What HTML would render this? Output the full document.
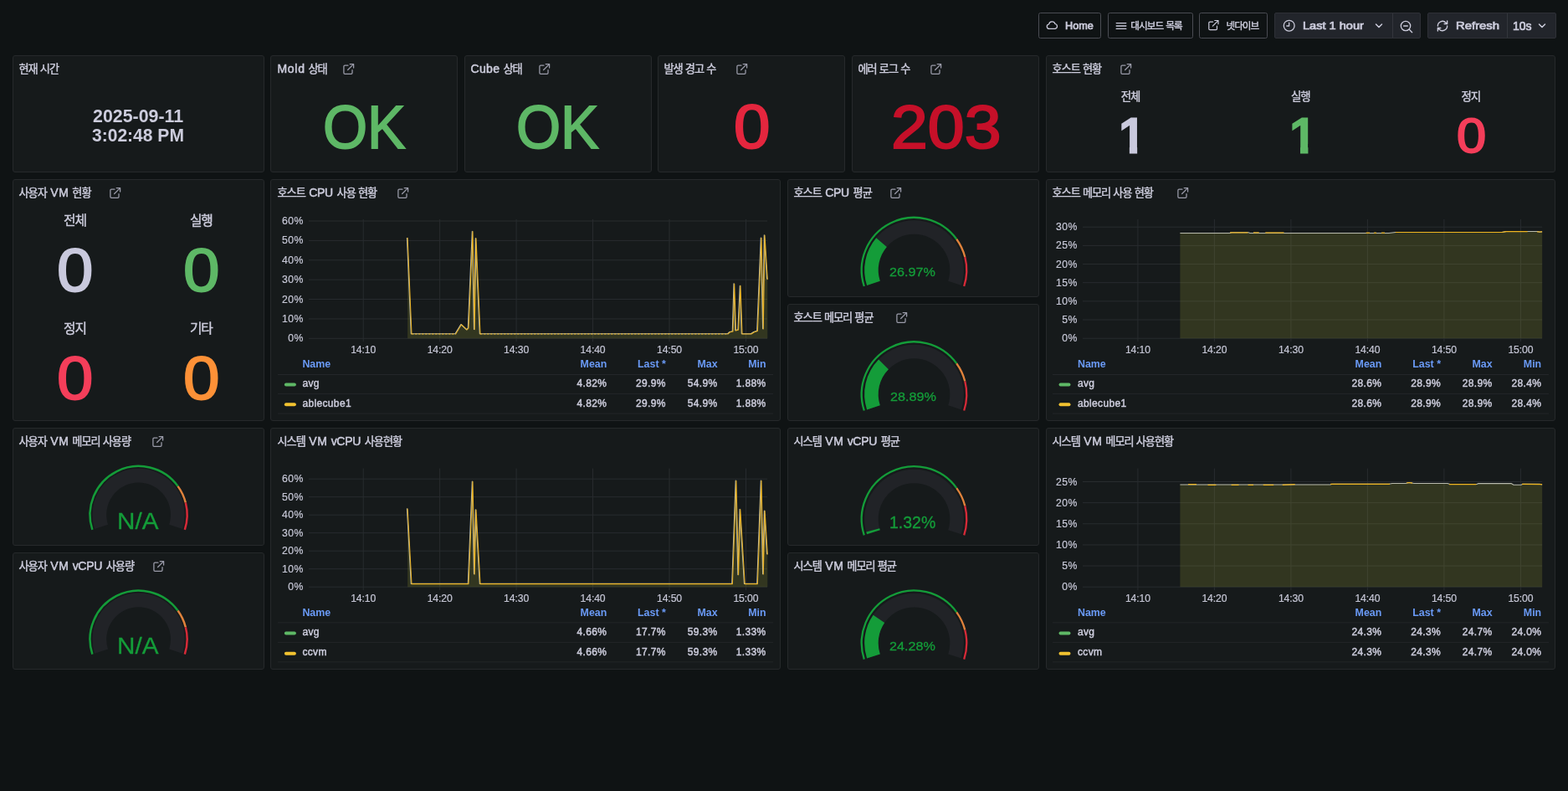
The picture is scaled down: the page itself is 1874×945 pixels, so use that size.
<!DOCTYPE html><html lang="ko"><head><meta charset="utf-8"><title>Dashboard</title><style>
html,body{margin:0;padding:0}
body{width:1874px;height:945px;overflow:hidden;position:relative;background:#0f1314;font-family:"Liberation Sans",sans-serif;color:#ccccdc}
#root{position:absolute;left:0;top:0;width:1874px;height:945px;will-change:transform}
.p{position:absolute;box-sizing:border-box;background:#161a1b;border:1px solid #26292b;border-radius:3px}
.t{position:absolute;left:6.5px;top:4.7px;height:20px;line-height:20px;white-space:nowrap;display:flex;align-items:center}
.k{display:inline-block;flex:none;font-family:"Liberation Sans","Noto Sans CJK KR",sans-serif;color:#ccccdc;white-space:nowrap;line-height:normal;letter-spacing:-0.08em;-webkit-text-stroke:0.4px #ccccdc}
.k0{font-size:11.6px}
.k1{font-size:13.2px}
.k2{font-size:13.4px}
.k3{font-size:15.8px}
.b{position:absolute;box-sizing:border-box;border:1px solid #4a4c53;border-radius:2.5px}
.g{position:absolute;box-sizing:border-box;border:1px solid #2e3036;border-radius:2px;background:#22252b}
.g i{position:absolute;top:0;bottom:0;width:1px;background:#34363d}
.tb{position:absolute;height:17px;display:flex;align-items:center;white-space:nowrap}
.c{position:absolute;width:120px;display:flex;align-items:center;justify-content:center;white-space:nowrap}
.yl{position:absolute;width:60px;height:15px;line-height:15px;font-size:12.2px;text-align:right;color:#c6c7d6;letter-spacing:0.5px;margin-left:0.5px;-webkit-text-stroke:0.2px #c6c7d6}
.xl{position:absolute;width:60px;height:15px;line-height:15px;font-size:12.2px;text-align:center;color:#c6c7d6;letter-spacing:-0.1px;-webkit-text-stroke:0.2px #c6c7d6}
.lh{position:absolute;height:15px;line-height:15px;font-size:12.4px;color:#6a9af6;font-weight:bold;white-space:nowrap}
.lv{position:absolute;height:15px;line-height:15px;font-size:12px;color:#ccccdc;white-space:nowrap;letter-spacing:0.35px;-webkit-text-stroke:0.45px #ccccdc}
.r{width:80px;text-align:right}
</style></head><body><div id="root"><div class="b" style="left:1241px;top:15px;width:75px;height:31px"></div><div class="b" style="left:1324px;top:15px;width:102px;height:31px"></div><div class="b" style="left:1433px;top:15px;width:82px;height:31px"></div><div class="g" style="left:1523px;top:15px;width:175px;height:31px"><i style="left:140px"></i></div><div class="g" style="left:1706px;top:15px;width:154px;height:31px"><i style="left:94px"></i></div><svg style="position:absolute;left:1250px;top:23px" width="15" height="14.4" viewBox="0 0 24 24" preserveAspectRatio="none" fill="none" stroke="#ccccdc" stroke-width="2" stroke-linecap="round" stroke-linejoin="round"><path d="M6.5 19a4.5 4.5 0 0 1-.6-8.96A6 6 0 0 1 17.6 9.2 5 5 0 0 1 17.5 19z"/></svg><span style="position:absolute;left:1272.70px;top:25.37px;font-size:12.31px;line-height:1;white-space:nowrap;color:#ccccdc;transform-origin:0 0;transform:scaleX(1.0287);-webkit-text-stroke:0.7px #ccccdc;">Home</span><svg style="position:absolute;left:1333.3px;top:24.7px" width="14" height="12" viewBox="0 0 14 12" stroke="#ccccdc" stroke-width="1.35" stroke-linecap="round"><path d="M1.2 2.6H12.8M1.2 6H12.8M1.2 9.4H12.8"/></svg><div class="tb" style="left:1351.2px;top:21.8px"><span class="k k0">대시보드</span><span style="display:inline-block;width:3.02px"> </span><span class="k k0">목록</span></div><svg style="position:absolute;left:1442.85px;top:23.35px" width="14.5" height="14.5" viewBox="0 0 24 24" fill="none" stroke="#ccccdc" stroke-width="2" stroke-linecap="round" stroke-linejoin="round"><path d="M19 13.5V19a2 2 0 0 1-2 2H5a2 2 0 0 1-2-2V7a2 2 0 0 1 2-2h6"/><path d="M14.5 2.5H21.5V9.5"/><path d="M10.5 13.5L21 3"/></svg><div class="tb" style="left:1465.4px;top:21.8px"><span class="k k0">넷다이브</span></div><svg style="position:absolute;left:1533px;top:23px" width="15.4" height="15.4" viewBox="0 0 24 24" fill="none" stroke="#ccccdc" stroke-width="2" stroke-linecap="round" stroke-linejoin="round"><circle cx="12" cy="12" r="10"/><path d="M12 6.5V12.5H7.5"/></svg><span style="position:absolute;left:1556.54px;top:25.16px;font-size:12.71px;line-height:1;white-space:nowrap;color:#ccccdc;transform-origin:0 0;transform:scaleX(1.1471);-webkit-text-stroke:0.7px #ccccdc;">Last 1 hour</span><svg style="position:absolute;left:1642.5px;top:26.5px" width="10" height="8" viewBox="0 0 10 8" fill="none" stroke="#ccccdc" stroke-width="1.5" stroke-linecap="round" stroke-linejoin="round"><path d="M1.5 2L5 5.5L8.5 2"/></svg><svg style="position:absolute;left:1672.5px;top:23.5px" width="16" height="16" viewBox="0 0 24 24" fill="none" stroke="#ccccdc" stroke-width="2" stroke-linecap="round" stroke-linejoin="round"><circle cx="10.5" cy="10.5" r="8.5"/><path d="M7 10.5H14M17 17L22 22"/></svg><svg style="position:absolute;left:1715.5px;top:23px" width="16" height="16" viewBox="0 0 24 24" fill="none" stroke="#ccccdc" stroke-width="2" stroke-linecap="round" stroke-linejoin="round"><path d="M3.5 12a8.5 8.5 0 0 1 14.5-6l2.5 2.3M20.5 3v5.3h-5.3M20.5 12a8.5 8.5 0 0 1-14.5 6l-2.5-2.3M3.5 21v-5.3h5.3"/></svg><span style="position:absolute;left:1739.81px;top:25.16px;font-size:12.70px;line-height:1;white-space:nowrap;color:#ccccdc;transform-origin:0 0;transform:scaleX(1.1714);-webkit-text-stroke:0.7px #ccccdc;">Refresh</span><span style="position:absolute;left:1808.00px;top:23.61px;font-size:14.35px;line-height:1;white-space:nowrap;color:#ccccdc;transform-origin:0 0;transform:scaleX(0.9782);-webkit-text-stroke:0.7px #ccccdc;">10s</span><svg style="position:absolute;left:1838px;top:26.5px" width="10" height="8" viewBox="0 0 10 8" fill="none" stroke="#ccccdc" stroke-width="1.5" stroke-linecap="round" stroke-linejoin="round"><path d="M1.5 2L5 5.5L8.5 2"/></svg><div class="p" style="left:15px;top:66px;width:301px;height:140px"><div class="t"><span class="k k1">현재</span><span style="display:inline-block;width:3.20px"> </span><span class="k k1">시간</span></div></div><div class="p" style="left:323px;top:66px;width:224px;height:140px"><div class="t" style="left:7.5px"><span style="font-size:14px;-webkit-text-stroke:0.5px #ccccdc;letter-spacing:0.7px;margin-right:-0.7px">Mold</span><span style="display:inline-block;width:4.50px"> </span><span class="k k1">상태</span></div></div><svg style="position:absolute;left:408.50px;top:74.60px" width="15.2" height="15.2" viewBox="0 0 24 24" fill="none" stroke="#9b9caa" stroke-width="2" stroke-linecap="round" stroke-linejoin="round"><path d="M19 13.5V19a2 2 0 0 1-2 2H5a2 2 0 0 1-2-2V7a2 2 0 0 1 2-2h6"/><path d="M14.5 2.5H21.5V9.5"/><path d="M10.5 13.5L21 3"/></svg><div class="p" style="left:555px;top:66px;width:224px;height:140px"><div class="t"><span style="font-size:14px;-webkit-text-stroke:0.5px #ccccdc;letter-spacing:0.35px;margin-right:-0.35px">Cube</span><span style="display:inline-block;width:4.50px"> </span><span class="k k1">상태</span></div></div><svg style="position:absolute;left:642.80px;top:74.60px" width="15.2" height="15.2" viewBox="0 0 24 24" fill="none" stroke="#9b9caa" stroke-width="2" stroke-linecap="round" stroke-linejoin="round"><path d="M19 13.5V19a2 2 0 0 1-2 2H5a2 2 0 0 1-2-2V7a2 2 0 0 1 2-2h6"/><path d="M14.5 2.5H21.5V9.5"/><path d="M10.5 13.5L21 3"/></svg><div class="p" style="left:786px;top:66px;width:224px;height:140px"><div class="t"><span class="k k1">발생</span><span style="display:inline-block;width:3.20px"> </span><span class="k k1">경고</span><span style="display:inline-block;width:3.20px"> </span><span class="k k1">수</span></div></div><svg style="position:absolute;left:878.50px;top:74.60px" width="15.2" height="15.2" viewBox="0 0 24 24" fill="none" stroke="#9b9caa" stroke-width="2" stroke-linecap="round" stroke-linejoin="round"><path d="M19 13.5V19a2 2 0 0 1-2 2H5a2 2 0 0 1-2-2V7a2 2 0 0 1 2-2h6"/><path d="M14.5 2.5H21.5V9.5"/><path d="M10.5 13.5L21 3"/></svg><div class="p" style="left:1018px;top:66px;width:224px;height:140px"><div class="t"><span class="k k1">에러</span><span style="display:inline-block;width:3.20px"> </span><span class="k k1">로그</span><span style="display:inline-block;width:3.20px"> </span><span class="k k1">수</span></div></div><svg style="position:absolute;left:1110.50px;top:74.60px" width="15.2" height="15.2" viewBox="0 0 24 24" fill="none" stroke="#9b9caa" stroke-width="2" stroke-linecap="round" stroke-linejoin="round"><path d="M19 13.5V19a2 2 0 0 1-2 2H5a2 2 0 0 1-2-2V7a2 2 0 0 1 2-2h6"/><path d="M14.5 2.5H21.5V9.5"/><path d="M10.5 13.5L21 3"/></svg><div class="p" style="left:1250px;top:66px;width:609px;height:140px"><div class="t"><span class="k k1">호스트</span><span style="display:inline-block;width:3.20px"> </span><span class="k k1">현황</span></div></div><svg style="position:absolute;left:1337.50px;top:74.60px" width="15.2" height="15.2" viewBox="0 0 24 24" fill="none" stroke="#9b9caa" stroke-width="2" stroke-linecap="round" stroke-linejoin="round"><path d="M19 13.5V19a2 2 0 0 1-2 2H5a2 2 0 0 1-2-2V7a2 2 0 0 1 2-2h6"/><path d="M14.5 2.5H21.5V9.5"/><path d="M10.5 13.5L21 3"/></svg><div class="p" style="left:15px;top:214px;width:301px;height:289px"><div class="t"><span class="k k1">사용자</span><span style="display:inline-block;width:4.50px"> </span><span style="font-size:14px;-webkit-text-stroke:0.5px #ccccdc;letter-spacing:0.6px;margin-right:-0.6px">VM</span><span style="display:inline-block;width:4.50px"> </span><span class="k k1">현황</span></div></div><svg style="position:absolute;left:129.50px;top:222.60px" width="15.2" height="15.2" viewBox="0 0 24 24" fill="none" stroke="#9b9caa" stroke-width="2" stroke-linecap="round" stroke-linejoin="round"><path d="M19 13.5V19a2 2 0 0 1-2 2H5a2 2 0 0 1-2-2V7a2 2 0 0 1 2-2h6"/><path d="M14.5 2.5H21.5V9.5"/><path d="M10.5 13.5L21 3"/></svg><div class="p" style="left:323px;top:214px;width:610px;height:289px"><div class="t" style="left:7.5px"><span class="k k1">호스트</span><span style="display:inline-block;width:4.50px"> </span><span style="font-size:14px;-webkit-text-stroke:0.5px #ccccdc;letter-spacing:-0.35px;margin-right:0.35px">CPU</span><span style="display:inline-block;width:4.50px"> </span><span class="k k1">사용</span><span style="display:inline-block;width:3.20px"> </span><span class="k k1">현황</span></div></div><svg style="position:absolute;left:474.00px;top:222.60px" width="15.2" height="15.2" viewBox="0 0 24 24" fill="none" stroke="#9b9caa" stroke-width="2" stroke-linecap="round" stroke-linejoin="round"><path d="M19 13.5V19a2 2 0 0 1-2 2H5a2 2 0 0 1-2-2V7a2 2 0 0 1 2-2h6"/><path d="M14.5 2.5H21.5V9.5"/><path d="M10.5 13.5L21 3"/></svg><div class="p" style="left:941px;top:214px;width:301px;height:141px"><div class="t"><span class="k k1">호스트</span><span style="display:inline-block;width:4.50px"> </span><span style="font-size:14px;-webkit-text-stroke:0.5px #ccccdc;letter-spacing:-0.35px;margin-right:0.35px">CPU</span><span style="display:inline-block;width:4.50px"> </span><span class="k k1">평균</span></div></div><svg style="position:absolute;left:1062.50px;top:222.60px" width="15.2" height="15.2" viewBox="0 0 24 24" fill="none" stroke="#9b9caa" stroke-width="2" stroke-linecap="round" stroke-linejoin="round"><path d="M19 13.5V19a2 2 0 0 1-2 2H5a2 2 0 0 1-2-2V7a2 2 0 0 1 2-2h6"/><path d="M14.5 2.5H21.5V9.5"/><path d="M10.5 13.5L21 3"/></svg><div class="p" style="left:941px;top:363px;width:301px;height:140px"><div class="t"><span class="k k1">호스트</span><span style="display:inline-block;width:3.20px"> </span><span class="k k1">메모리</span><span style="display:inline-block;width:3.20px"> </span><span class="k k1">평균</span></div></div><svg style="position:absolute;left:1069.50px;top:371.60px" width="15.2" height="15.2" viewBox="0 0 24 24" fill="none" stroke="#9b9caa" stroke-width="2" stroke-linecap="round" stroke-linejoin="round"><path d="M19 13.5V19a2 2 0 0 1-2 2H5a2 2 0 0 1-2-2V7a2 2 0 0 1 2-2h6"/><path d="M14.5 2.5H21.5V9.5"/><path d="M10.5 13.5L21 3"/></svg><div class="p" style="left:1250px;top:214px;width:609px;height:289px"><div class="t"><span class="k k1">호스트</span><span style="display:inline-block;width:3.20px"> </span><span class="k k1">메모리</span><span style="display:inline-block;width:3.20px"> </span><span class="k k1">사용</span><span style="display:inline-block;width:3.20px"> </span><span class="k k1">현황</span></div></div><svg style="position:absolute;left:1405.50px;top:222.60px" width="15.2" height="15.2" viewBox="0 0 24 24" fill="none" stroke="#9b9caa" stroke-width="2" stroke-linecap="round" stroke-linejoin="round"><path d="M19 13.5V19a2 2 0 0 1-2 2H5a2 2 0 0 1-2-2V7a2 2 0 0 1 2-2h6"/><path d="M14.5 2.5H21.5V9.5"/><path d="M10.5 13.5L21 3"/></svg><div class="p" style="left:15px;top:511px;width:301px;height:141px"><div class="t"><span class="k k1">사용자</span><span style="display:inline-block;width:4.50px"> </span><span style="font-size:14px;-webkit-text-stroke:0.5px #ccccdc;letter-spacing:0.6px;margin-right:-0.6px">VM</span><span style="display:inline-block;width:4.50px"> </span><span class="k k1">메모리</span><span style="display:inline-block;width:3.20px"> </span><span class="k k1">사용량</span></div></div><svg style="position:absolute;left:180.50px;top:519.60px" width="15.2" height="15.2" viewBox="0 0 24 24" fill="none" stroke="#9b9caa" stroke-width="2" stroke-linecap="round" stroke-linejoin="round"><path d="M19 13.5V19a2 2 0 0 1-2 2H5a2 2 0 0 1-2-2V7a2 2 0 0 1 2-2h6"/><path d="M14.5 2.5H21.5V9.5"/><path d="M10.5 13.5L21 3"/></svg><div class="p" style="left:15px;top:660px;width:301px;height:140px"><div class="t"><span class="k k1">사용자</span><span style="display:inline-block;width:4.50px"> </span><span style="font-size:14px;-webkit-text-stroke:0.5px #ccccdc;letter-spacing:0.6px;margin-right:-0.6px">VM</span><span style="display:inline-block;width:4.80px"> </span><span style="font-size:14px;-webkit-text-stroke:0.5px #ccccdc;letter-spacing:-0.3px;margin-right:0.3px">vCPU</span><span style="display:inline-block;width:4.50px"> </span><span class="k k1">사용량</span></div></div><svg style="position:absolute;left:181.50px;top:668.60px" width="15.2" height="15.2" viewBox="0 0 24 24" fill="none" stroke="#9b9caa" stroke-width="2" stroke-linecap="round" stroke-linejoin="round"><path d="M19 13.5V19a2 2 0 0 1-2 2H5a2 2 0 0 1-2-2V7a2 2 0 0 1 2-2h6"/><path d="M14.5 2.5H21.5V9.5"/><path d="M10.5 13.5L21 3"/></svg><div class="p" style="left:323px;top:511px;width:610px;height:289px"><div class="t" style="left:7.5px"><span class="k k1">시스템</span><span style="display:inline-block;width:4.50px"> </span><span style="font-size:14px;-webkit-text-stroke:0.5px #ccccdc;letter-spacing:0.6px;margin-right:-0.6px">VM</span><span style="display:inline-block;width:4.80px"> </span><span style="font-size:14px;-webkit-text-stroke:0.5px #ccccdc;letter-spacing:-0.3px;margin-right:0.3px">vCPU</span><span style="display:inline-block;width:4.50px"> </span><span class="k k1">사용현황</span></div></div><div class="p" style="left:941px;top:511px;width:301px;height:141px"><div class="t"><span class="k k1">시스템</span><span style="display:inline-block;width:4.50px"> </span><span style="font-size:14px;-webkit-text-stroke:0.5px #ccccdc;letter-spacing:0.6px;margin-right:-0.6px">VM</span><span style="display:inline-block;width:4.80px"> </span><span style="font-size:14px;-webkit-text-stroke:0.5px #ccccdc;letter-spacing:-0.3px;margin-right:0.3px">vCPU</span><span style="display:inline-block;width:4.50px"> </span><span class="k k1">평균</span></div></div><div class="p" style="left:941px;top:660px;width:301px;height:140px"><div class="t"><span class="k k1">시스템</span><span style="display:inline-block;width:4.50px"> </span><span style="font-size:14px;-webkit-text-stroke:0.5px #ccccdc;letter-spacing:0.6px;margin-right:-0.6px">VM</span><span style="display:inline-block;width:4.50px"> </span><span class="k k1">메모리</span><span style="display:inline-block;width:3.20px"> </span><span class="k k1">평균</span></div></div><div class="p" style="left:1250px;top:511px;width:609px;height:289px"><div class="t"><span class="k k1">시스템</span><span style="display:inline-block;width:4.50px"> </span><span style="font-size:14px;-webkit-text-stroke:0.5px #ccccdc;letter-spacing:0.6px;margin-right:-0.6px">VM</span><span style="display:inline-block;width:4.50px"> </span><span class="k k1">메모리</span><span style="display:inline-block;width:3.20px"> </span><span class="k k1">사용현황</span></div></div><span style="position:absolute;left:110.50px;top:128.34px;font-size:21.19px;line-height:1;white-space:nowrap;color:#ccccdc;transform-origin:0 0;transform:scaleX(1.0094);font-weight:bold;">2025-09-11</span><span style="position:absolute;left:110.14px;top:151.82px;font-size:21.42px;line-height:1;white-space:nowrap;color:#ccccdc;transform-origin:0 0;transform:scaleX(0.9829);font-weight:bold;">3:02:48 PM</span><span style="position:absolute;left:385.55px;top:115.85px;font-size:72.42px;line-height:1;white-space:nowrap;color:#5eb866;transform-origin:0 0;transform:scaleX(0.9429);-webkit-text-stroke:1.8px #5eb866;">OK</span><span style="position:absolute;left:616.55px;top:115.85px;font-size:72.42px;line-height:1;white-space:nowrap;color:#5eb866;transform-origin:0 0;transform:scaleX(0.9429);-webkit-text-stroke:1.8px #5eb866;">OK</span><span style="position:absolute;left:877.43px;top:115.24px;font-size:73.49px;line-height:1;white-space:nowrap;color:#e4263e;transform-origin:0 0;transform:scaleX(1.0628);-webkit-text-stroke:2.1px #e4263e;">0</span><span style="position:absolute;left:1065.45px;top:115.82px;font-size:72.93px;line-height:1;white-space:nowrap;color:#c61029;transform-origin:0 0;transform:scaleX(1.0804);-webkit-text-stroke:2.1px #c61029;">203</span><div class="c" style="left:1291px;top:100.6px;height:26.8px"><span class="k k2">전체</span></div><div class="c" style="left:1494.3px;top:100.6px;height:26.8px"><span class="k k2">실행</span></div><div class="c" style="left:1697.7px;top:100.6px;height:26.8px"><span class="k k2">정지</span></div><span style="position:absolute;left:1335.90px;top:134.50px;font-size:56.72px;line-height:1;white-space:nowrap;color:#c9c9dd;transform-origin:0 0;transform:scaleX(1.1042);clip-path:polygon(-5px -10px,56.7px -10px,56.7px 37.29px,20.98px 37.29px,20.98px 73.7px,12.56px 73.7px,12.56px 37.29px,-5px 37.29px);-webkit-text-stroke:3.0px #c9c9dd;">1</span><span style="position:absolute;left:1539.79px;top:134.66px;font-size:56.76px;line-height:1;white-space:nowrap;color:#5eb866;transform-origin:0 0;transform:scaleX(1.1156);clip-path:polygon(-5px -10px,56.8px -10px,56.8px 37.31px,20.99px 37.31px,20.99px 73.8px,12.57px 73.8px,12.57px 37.31px,-5px 37.31px);-webkit-text-stroke:3.0px #5eb866;">1</span><span style="position:absolute;left:1741.05px;top:133.36px;font-size:58.29px;line-height:1;white-space:nowrap;color:#f43e5a;transform-origin:0 0;transform:scaleX(1.0837);-webkit-text-stroke:2.0px #f43e5a;">0</span><div class="c" style="left:29.400000000000006px;top:247.2px;height:31.6px"><span class="k k3">전체</span></div><div class="c" style="left:180.3px;top:247.2px;height:31.6px"><span class="k k3">실행</span></div><div class="c" style="left:29.400000000000006px;top:376.2px;height:31.6px"><span class="k k3">정지</span></div><div class="c" style="left:180.3px;top:376.2px;height:31.6px"><span class="k k3">기타</span></div><span style="position:absolute;left:67.71px;top:286.52px;font-size:72.79px;line-height:1;white-space:nowrap;color:#c9c9dd;transform-origin:0 0;transform:scaleX(1.0736);-webkit-text-stroke:1.8px #c9c9dd;">0</span><span style="position:absolute;left:219.28px;top:286.98px;font-size:72.62px;line-height:1;white-space:nowrap;color:#5eb866;transform-origin:0 0;transform:scaleX(1.0779);-webkit-text-stroke:1.8px #5eb866;">0</span><span style="position:absolute;left:67.79px;top:415.62px;font-size:72.33px;line-height:1;white-space:nowrap;color:#f43e5a;transform-origin:0 0;transform:scaleX(1.0787);-webkit-text-stroke:1.8px #f43e5a;">0</span><span style="position:absolute;left:219.28px;top:415.74px;font-size:72.62px;line-height:1;white-space:nowrap;color:#fd9137;transform-origin:0 0;transform:scaleX(1.0779);-webkit-text-stroke:1.8px #fd9137;">0</span><svg style="position:absolute;left:0;top:0" width="1874" height="945" fill="none"><path d="M1032.82 341.99A62.75 62.75 0 0 1 1143.27 285.72" stroke="#149c39" stroke-width="2.3"/><path d="M1143.27 285.72A62.75 62.75 0 0 1 1153.28 306.99" stroke="#e0833c" stroke-width="2.3"/><path d="M1153.28 306.99A62.75 62.75 0 0 1 1152.18 341.99" stroke="#d62a38" stroke-width="2.3"/><path d="M1043.95 338.38A51.05 51.05 0 1 1 1141.05 338.38" stroke="#212327" stroke-width="16.5"/><path d="M1043.95 338.38A51.05 51.05 0 0 1 1053.54 289.61" stroke="#149c39" stroke-width="16.5"/></svg><span style="position:absolute;left:1063.35px;top:318.15px;font-size:14.92px;line-height:1;white-space:nowrap;color:#149c39;transform-origin:0 0;transform:scaleX(1.0837);-webkit-text-stroke:0.3px #149c39;">26.97%</span><svg style="position:absolute;left:0;top:0" width="1874" height="945" fill="none"><path d="M1032.82 490.49A62.75 62.75 0 0 1 1143.27 434.22" stroke="#149c39" stroke-width="2.3"/><path d="M1143.27 434.22A62.75 62.75 0 0 1 1153.28 455.49" stroke="#e0833c" stroke-width="2.3"/><path d="M1153.28 455.49A62.75 62.75 0 0 1 1152.18 490.49" stroke="#d62a38" stroke-width="2.3"/><path d="M1043.95 486.88A51.05 51.05 0 1 1 1141.05 486.88" stroke="#212327" stroke-width="16.5"/><path d="M1043.95 486.88A51.05 51.05 0 0 1 1056.03 435.38" stroke="#149c39" stroke-width="16.5"/></svg><span style="position:absolute;left:1063.60px;top:466.80px;font-size:14.66px;line-height:1;white-space:nowrap;color:#149c39;transform-origin:0 0;transform:scaleX(1.1054);-webkit-text-stroke:0.3px #149c39;">28.89%</span><svg style="position:absolute;left:0;top:0" width="1874" height="945" fill="none"><path d="M1032.82 639.39A62.75 62.75 0 0 1 1143.27 583.12" stroke="#149c39" stroke-width="2.3"/><path d="M1143.27 583.12A62.75 62.75 0 0 1 1153.28 604.39" stroke="#e0833c" stroke-width="2.3"/><path d="M1153.28 604.39A62.75 62.75 0 0 1 1152.18 639.39" stroke="#d62a38" stroke-width="2.3"/><path d="M1043.95 635.78A51.05 51.05 0 1 1 1141.05 635.78" stroke="#212327" stroke-width="16.5"/><path d="M1043.95 635.78A51.05 51.05 0 0 1 1043.22 633.34" stroke="#149c39" stroke-width="16.5"/></svg><span style="position:absolute;left:1062.52px;top:614.88px;font-size:19.39px;line-height:1;white-space:nowrap;color:#149c39;transform-origin:0 0;transform:scaleX(1.0054);-webkit-text-stroke:0.3px #149c39;">1.32%</span><svg style="position:absolute;left:0;top:0" width="1874" height="945" fill="none"><path d="M1032.82 787.59A62.75 62.75 0 0 1 1143.27 731.32" stroke="#149c39" stroke-width="2.3"/><path d="M1143.27 731.32A62.75 62.75 0 0 1 1153.28 752.59" stroke="#e0833c" stroke-width="2.3"/><path d="M1153.28 752.59A62.75 62.75 0 0 1 1152.18 787.59" stroke="#d62a38" stroke-width="2.3"/><path d="M1043.95 783.98A51.05 51.05 0 1 1 1141.05 783.98" stroke="#212327" stroke-width="16.5"/><path d="M1043.95 783.98A51.05 51.05 0 0 1 1050.40 739.33" stroke="#149c39" stroke-width="16.5"/></svg><span style="position:absolute;left:1063.39px;top:764.19px;font-size:15.15px;line-height:1;white-space:nowrap;color:#149c39;transform-origin:0 0;transform:scaleX(1.0688);-webkit-text-stroke:0.3px #149c39;">24.28%</span><svg style="position:absolute;left:0;top:0" width="1874" height="945" fill="none"><path d="M110.39 632.94A58.05 58.05 0 0 1 212.56 580.88" stroke="#149c39" stroke-width="2.5"/><path d="M212.56 580.88A58.05 58.05 0 0 1 221.83 600.56" stroke="#e0833c" stroke-width="2.5"/><path d="M221.83 600.56A58.05 58.05 0 0 1 220.81 632.94" stroke="#d62a38" stroke-width="2.5"/><path d="M121.09 629.46A46.80 46.80 0 1 1 210.11 629.46" stroke="#212327" stroke-width="16.8"/></svg><span style="position:absolute;left:139.74px;top:609.33px;font-size:27.53px;line-height:1;white-space:nowrap;color:#149c39;transform-origin:0 0;transform:scaleX(1.0782);-webkit-text-stroke:0.3px #149c39;">N/A</span><svg style="position:absolute;left:0;top:0" width="1874" height="945" fill="none"><path d="M110.39 781.64A58.05 58.05 0 0 1 212.56 729.58" stroke="#149c39" stroke-width="2.5"/><path d="M212.56 729.58A58.05 58.05 0 0 1 221.83 749.26" stroke="#e0833c" stroke-width="2.5"/><path d="M221.83 749.26A58.05 58.05 0 0 1 220.81 781.64" stroke="#d62a38" stroke-width="2.5"/><path d="M121.09 778.16A46.80 46.80 0 1 1 210.11 778.16" stroke="#212327" stroke-width="16.8"/></svg><span style="position:absolute;left:139.73px;top:757.37px;font-size:28.27px;line-height:1;white-space:nowrap;color:#149c39;transform-origin:0 0;transform:scaleX(1.0500);-webkit-text-stroke:0.3px #149c39;">N/A</span><svg style="position:absolute;left:0;top:0" width="1874" height="945" fill="none"><path d="M369 404.30H917M369 380.92H917M369 357.53H917M369 334.15H917M369 310.77H917M369 287.38H917M369 264.00H917M434.20 262V408.30M525.65 262V408.30M617.10 262V408.30M708.55 262V408.30M800.00 262V408.30M891.45 262V408.30" stroke="#282c2f" stroke-width="1"/><path d="M487.10 284.20 L492.00 399.00 L544.70 399.00 L551.50 387.70 L558.20 394.00 L560.00 392.00 L565.00 276.60 L567.20 393.60 L569.00 284.70 L574.00 399.00 L870.00 399.00 L872.70 396.70 L876.00 396.00 L877.70 339.00 L879.50 395.00 L882.60 394.00 L885.00 341.40 L887.00 399.00 L898.00 399.00 L901.50 396.70 L905.40 395.40 L910.00 284.20 L912.30 393.00 L914.00 281.00 L917.30 333.70 L917.30 404.30 L487.10 404.30Z" fill="#a4ac38" fill-opacity="0.2"/><path d="M487.10 284.20 L492.00 399.00 L544.70 399.00 L551.50 387.70 L558.20 394.00 L560.00 392.00 L565.00 276.60 L567.20 393.60 L569.00 284.70 L574.00 399.00 L870.00 399.00 L872.70 396.70 L876.00 396.00 L877.70 339.00 L879.50 395.00 L882.60 394.00 L885.00 341.40 L887.00 399.00 L898.00 399.00 L901.50 396.70 L905.40 395.40 L910.00 284.20 L912.30 393.00 L914.00 281.00 L917.30 333.70" stroke="#b9bbae" stroke-width="1.1" stroke-linejoin="round" transform="translate(-0.7,-0.2)"/><path d="M487.10 284.20L492.00 399.00M544.70 399.00L551.50 387.70M551.50 387.70L558.20 394.00M558.20 394.00L560.00 392.00M560.00 392.00L565.00 276.60M565.00 276.60L567.20 393.60M567.20 393.60L569.00 284.70M569.00 284.70L574.00 399.00M870.00 399.00L872.70 396.70M872.70 396.70L876.00 396.00M876.00 396.00L877.70 339.00M877.70 339.00L879.50 395.00M879.50 395.00L882.60 394.00M882.60 394.00L885.00 341.40M885.00 341.40L887.00 399.00M887.00 399.00L898.00 399.00M898.00 399.00L901.50 396.70M901.50 396.70L905.40 395.40M905.40 395.40L910.00 284.20M910.00 284.20L912.30 393.00M912.30 393.00L914.00 281.00M914.00 281.00L917.30 333.70" stroke="#efb520" stroke-width="1.05" stroke-linecap="round" stroke-opacity="0.95"/><path d="M492.00 399.00L544.70 399.00M574.00 399.00L870.00 399.00" stroke="#efb520" stroke-width="1.05" stroke-dasharray="2.6 1.4"/><path d="M332 447.50H924M332 470.60H924M332 494.10H924" stroke="#232629" stroke-width="1"/><rect x="339.9" y="457.50" width="14" height="4" rx="2" fill="#5eb866"/><rect x="339.9" y="481.20" width="14" height="4" rx="2" fill="#f2c230"/></svg><div class="yl" style="left:302.4px;top:397.30px">0%</div><div class="yl" style="left:302.4px;top:373.92px">10%</div><div class="yl" style="left:302.4px;top:350.53px">20%</div><div class="yl" style="left:302.4px;top:327.15px">30%</div><div class="yl" style="left:302.4px;top:303.77px">40%</div><div class="yl" style="left:302.4px;top:280.38px">50%</div><div class="yl" style="left:302.4px;top:257.00px">60%</div><div class="xl" style="left:404.20px;top:411.20px">14:10</div><div class="xl" style="left:495.65px;top:411.20px">14:20</div><div class="xl" style="left:587.10px;top:411.20px">14:30</div><div class="xl" style="left:678.55px;top:411.20px">14:40</div><div class="xl" style="left:770.00px;top:411.20px">14:50</div><div class="xl" style="left:861.45px;top:411.20px">15:00</div><div class="lh" style="left:361.4px;top:428.10px">Name</div><div class="lh r" style="left:645.30px;top:428.10px">Mean</div><div class="lh r" style="left:715.80px;top:428.10px">Last *</div><div class="lh r" style="left:777.60px;top:428.10px">Max</div><div class="lh r" style="left:835.50px;top:428.10px">Min</div><div class="lv" style="left:361.4px;top:450.80px">avg</div><div class="lv r" style="left:645.30px;top:450.80px">4.82%</div><div class="lv r" style="left:715.80px;top:450.80px">29.9%</div><div class="lv r" style="left:777.60px;top:450.80px">54.9%</div><div class="lv r" style="left:835.50px;top:450.80px">1.88%</div><div class="lv" style="left:361.4px;top:474.50px">ablecube1</div><div class="lv r" style="left:645.30px;top:474.50px">4.82%</div><div class="lv r" style="left:715.80px;top:474.50px">29.9%</div><div class="lv r" style="left:777.60px;top:474.50px">54.9%</div><div class="lv r" style="left:835.50px;top:474.50px">1.88%</div><svg style="position:absolute;left:0;top:0" width="1874" height="945" fill="none"><path d="M369 701.20H917M369 679.70H917M369 658.20H917M369 636.70H917M369 615.20H917M369 593.70H917M369 572.20H917M434.20 559.6V705.20M525.65 559.6V705.20M617.10 559.6V705.20M708.55 559.6V705.20M800.00 559.6V705.20M891.45 559.6V705.20" stroke="#282c2f" stroke-width="1"/><path d="M487.10 607.60 L492.00 697.60 L560.00 697.60 L565.00 575.20 L567.20 685.90 L569.00 609.00 L574.00 697.60 L875.40 697.60 L879.90 574.30 L882.60 686.80 L884.80 608.50 L890.20 697.60 L905.40 697.60 L910.00 574.30 L912.30 685.90 L914.10 610.30 L917.30 662.50 L917.30 701.20 L487.10 701.20Z" fill="#a4ac38" fill-opacity="0.2"/><path d="M487.10 607.60 L492.00 697.60 L560.00 697.60 L565.00 575.20 L567.20 685.90 L569.00 609.00 L574.00 697.60 L875.40 697.60 L879.90 574.30 L882.60 686.80 L884.80 608.50 L890.20 697.60 L905.40 697.60 L910.00 574.30 L912.30 685.90 L914.10 610.30 L917.30 662.50" stroke="#b9bbae" stroke-width="1.1" stroke-linejoin="round" transform="translate(-0.7,-0.2)"/><path d="M487.10 607.60 L492.00 697.60 L560.00 697.60 L565.00 575.20 L567.20 685.90 L569.00 609.00 L574.00 697.60 L875.40 697.60 L879.90 574.30 L882.60 686.80 L884.80 608.50 L890.20 697.60 L905.40 697.60 L910.00 574.30 L912.30 685.90 L914.10 610.30 L917.30 662.50" stroke="#efb520" stroke-width="1.05" stroke-linejoin="round" stroke-opacity="0.95"/><path d="M332 743.90H924M332 767.40H924M332 790.90H924" stroke="#232629" stroke-width="1"/><rect x="339.9" y="754.60" width="14" height="4" rx="2" fill="#5eb866"/><rect x="339.9" y="778.80" width="14" height="4" rx="2" fill="#f2c230"/></svg><div class="yl" style="left:302.4px;top:694.20px">0%</div><div class="yl" style="left:302.4px;top:672.70px">10%</div><div class="yl" style="left:302.4px;top:651.20px">20%</div><div class="yl" style="left:302.4px;top:629.70px">30%</div><div class="yl" style="left:302.4px;top:608.20px">40%</div><div class="yl" style="left:302.4px;top:586.70px">50%</div><div class="yl" style="left:302.4px;top:565.20px">60%</div><div class="xl" style="left:404.20px;top:707.80px">14:10</div><div class="xl" style="left:495.65px;top:707.80px">14:20</div><div class="xl" style="left:587.10px;top:707.80px">14:30</div><div class="xl" style="left:678.55px;top:707.80px">14:40</div><div class="xl" style="left:770.00px;top:707.80px">14:50</div><div class="xl" style="left:861.45px;top:707.80px">15:00</div><div class="lh" style="left:361.4px;top:725.10px">Name</div><div class="lh r" style="left:645.30px;top:725.10px">Mean</div><div class="lh r" style="left:715.80px;top:725.10px">Last *</div><div class="lh r" style="left:777.60px;top:725.10px">Max</div><div class="lh r" style="left:835.50px;top:725.10px">Min</div><div class="lv" style="left:361.4px;top:747.90px">avg</div><div class="lv r" style="left:645.30px;top:747.90px">4.66%</div><div class="lv r" style="left:715.80px;top:747.90px">17.7%</div><div class="lv r" style="left:777.60px;top:747.90px">59.3%</div><div class="lv r" style="left:835.50px;top:747.90px">1.33%</div><div class="lv" style="left:361.4px;top:772.10px">ccvm</div><div class="lv r" style="left:645.30px;top:772.10px">4.66%</div><div class="lv r" style="left:715.80px;top:772.10px">17.7%</div><div class="lv r" style="left:777.60px;top:772.10px">59.3%</div><div class="lv r" style="left:835.50px;top:772.10px">1.33%</div><svg style="position:absolute;left:0;top:0" width="1874" height="945" fill="none"><path d="M1294 404.20H1843.2M1294 382.03H1843.2M1294 359.87H1843.2M1294 337.70H1843.2M1294 315.54H1843.2M1294 293.38H1843.2M1294 271.21H1843.2M1359.90 262V408.20M1451.40 262V408.20M1542.90 262V408.20M1634.40 262V408.20M1725.90 262V408.20M1817.40 262V408.20" stroke="#282c2f" stroke-width="1"/><path d="M1410.40 278.50 L1470.00 278.50 L1472.00 277.80 L1492.00 277.80 L1494.00 278.50 L1660.00 278.50 L1668.00 277.50 L1795.00 277.50 L1800.00 276.50 L1838.00 276.50 L1840.00 277.30 L1843.20 276.80 L1843.20 404.20 L1410.40 404.20Z" fill="#a4ac38" fill-opacity="0.2"/><path d="M1410.40 278.50 L1470.00 278.50 L1472.00 277.80 L1492.00 277.80 L1494.00 278.50 L1660.00 278.50 L1668.00 277.50 L1795.00 277.50 L1800.00 276.50 L1838.00 276.50 L1840.00 277.30 L1843.20 276.80" stroke="#b9bbae" stroke-width="1.1" stroke-linejoin="round" transform="translate(0,0)"/><path d="M1470.00 277.90 L1491.50 277.90" stroke="#efb520" stroke-width="1.2" stroke-linejoin="round" stroke-opacity="1"/><path d="M1498.00 277.90 L1504.70 277.90" stroke="#efb520" stroke-width="1.2" stroke-linejoin="round" stroke-opacity="1"/><path d="M1512.30 278.00 L1534.50 278.00" stroke="#efb520" stroke-width="1.2" stroke-linejoin="round" stroke-opacity="1"/><path d="M1632.70 278.20 L1637.00 278.20" stroke="#efb520" stroke-width="1.2" stroke-linejoin="round" stroke-opacity="1"/><path d="M1642.00 278.20 L1645.00 278.20" stroke="#efb520" stroke-width="1.2" stroke-linejoin="round" stroke-opacity="1"/><path d="M1651.00 278.20 L1655.00 278.20" stroke="#efb520" stroke-width="1.2" stroke-linejoin="round" stroke-opacity="1"/><path d="M1667.80 277.50 L1795.00 277.50 L1800.00 276.60 L1825.60 276.60" stroke="#efb520" stroke-width="1.2" stroke-linejoin="round" stroke-opacity="1"/><path d="M1837.00 277.00 L1843.00 276.80" stroke="#efb520" stroke-width="1.2" stroke-linejoin="round" stroke-opacity="1"/><path d="M1258 447.50H1851M1258 470.60H1851M1258 494.10H1851" stroke="#232629" stroke-width="1"/><rect x="1265.5" y="457.50" width="14" height="4" rx="2" fill="#5eb866"/><rect x="1265.5" y="481.20" width="14" height="4" rx="2" fill="#f2c230"/></svg><div class="yl" style="left:1227.3px;top:397.20px">0%</div><div class="yl" style="left:1227.3px;top:375.03px">5%</div><div class="yl" style="left:1227.3px;top:352.87px">10%</div><div class="yl" style="left:1227.3px;top:330.70px">15%</div><div class="yl" style="left:1227.3px;top:308.54px">20%</div><div class="yl" style="left:1227.3px;top:286.38px">25%</div><div class="yl" style="left:1227.3px;top:264.21px">30%</div><div class="xl" style="left:1329.90px;top:411.20px">14:10</div><div class="xl" style="left:1421.40px;top:411.20px">14:20</div><div class="xl" style="left:1512.90px;top:411.20px">14:30</div><div class="xl" style="left:1604.40px;top:411.20px">14:40</div><div class="xl" style="left:1695.90px;top:411.20px">14:50</div><div class="xl" style="left:1787.40px;top:411.20px">15:00</div><div class="lh" style="left:1288px;top:428.10px">Name</div><div class="lh r" style="left:1571.30px;top:428.10px">Mean</div><div class="lh r" style="left:1642.00px;top:428.10px">Last *</div><div class="lh r" style="left:1703.60px;top:428.10px">Max</div><div class="lh r" style="left:1762.20px;top:428.10px">Min</div><div class="lv" style="left:1288px;top:450.80px">avg</div><div class="lv r" style="left:1571.30px;top:450.80px">28.6%</div><div class="lv r" style="left:1642.00px;top:450.80px">28.9%</div><div class="lv r" style="left:1703.60px;top:450.80px">28.9%</div><div class="lv r" style="left:1762.20px;top:450.80px">28.4%</div><div class="lv" style="left:1288px;top:474.50px">ablecube1</div><div class="lv r" style="left:1571.30px;top:474.50px">28.6%</div><div class="lv r" style="left:1642.00px;top:474.50px">28.9%</div><div class="lv r" style="left:1703.60px;top:474.50px">28.9%</div><div class="lv r" style="left:1762.20px;top:474.50px">28.4%</div><svg style="position:absolute;left:0;top:0" width="1874" height="945" fill="none"><path d="M1294 701.20H1843.2M1294 676.06H1843.2M1294 650.92H1843.2M1294 625.78H1843.2M1294 600.64H1843.2M1294 575.50H1843.2M1359.90 559.6V705.20M1451.40 559.6V705.20M1542.90 559.6V705.20M1634.40 559.6V705.20M1725.90 559.6V705.20M1817.40 559.6V705.20" stroke="#282c2f" stroke-width="1"/><path d="M1410.40 579.00 L1590.00 579.00 L1592.00 578.30 L1660.00 578.30 L1664.00 577.50 L1680.00 577.50 L1684.00 576.50 L1690.00 577.50 L1730.00 577.50 L1733.00 578.50 L1765.00 578.50 L1767.00 577.60 L1806.00 577.60 L1809.00 579.30 L1818.00 579.30 L1820.00 578.30 L1840.00 578.30 L1843.20 579.00 L1843.20 701.20 L1410.40 701.20Z" fill="#a4ac38" fill-opacity="0.2"/><path d="M1410.40 579.00 L1590.00 579.00 L1592.00 578.30 L1660.00 578.30 L1664.00 577.50 L1680.00 577.50 L1684.00 576.50 L1690.00 577.50 L1730.00 577.50 L1733.00 578.50 L1765.00 578.50 L1767.00 577.60 L1806.00 577.60 L1809.00 579.30 L1818.00 579.30 L1820.00 578.30 L1840.00 578.30 L1843.20 579.00" stroke="#b9bbae" stroke-width="1.1" stroke-linejoin="round" transform="translate(0,0)"/><path d="M1420.00 578.60 L1430.00 578.60" stroke="#efb520" stroke-width="1.2" stroke-linejoin="round" stroke-opacity="1"/><path d="M1443.50 579.40 L1453.40 579.40" stroke="#efb520" stroke-width="1.2" stroke-linejoin="round" stroke-opacity="1"/><path d="M1471.60 579.40 L1480.60 579.40" stroke="#efb520" stroke-width="1.2" stroke-linejoin="round" stroke-opacity="1"/><path d="M1491.50 579.40 L1498.00 579.40" stroke="#efb520" stroke-width="1.2" stroke-linejoin="round" stroke-opacity="1"/><path d="M1509.70 579.40 L1522.20 579.40" stroke="#efb520" stroke-width="1.2" stroke-linejoin="round" stroke-opacity="1"/><path d="M1532.80 579.40 L1547.70 578.60" stroke="#efb520" stroke-width="1.2" stroke-linejoin="round" stroke-opacity="1"/><path d="M1590.00 578.40 L1661.00 578.40" stroke="#efb520" stroke-width="1.2" stroke-linejoin="round" stroke-opacity="1"/><path d="M1681.00 577.00 L1684.00 576.50 L1688.00 577.20" stroke="#efb520" stroke-width="1.2" stroke-linejoin="round" stroke-opacity="1"/><path d="M1732.00 578.60 L1764.40 578.60" stroke="#efb520" stroke-width="1.2" stroke-linejoin="round" stroke-opacity="1"/><path d="M1819.00 578.40 L1843.00 578.60" stroke="#efb520" stroke-width="1.2" stroke-linejoin="round" stroke-opacity="1"/><path d="M1258 743.90H1851M1258 767.40H1851M1258 790.90H1851" stroke="#232629" stroke-width="1"/><rect x="1265.5" y="754.60" width="14" height="4" rx="2" fill="#5eb866"/><rect x="1265.5" y="778.80" width="14" height="4" rx="2" fill="#f2c230"/></svg><div class="yl" style="left:1227.3px;top:694.20px">0%</div><div class="yl" style="left:1227.3px;top:669.06px">5%</div><div class="yl" style="left:1227.3px;top:643.92px">10%</div><div class="yl" style="left:1227.3px;top:618.78px">15%</div><div class="yl" style="left:1227.3px;top:593.64px">20%</div><div class="yl" style="left:1227.3px;top:568.50px">25%</div><div class="xl" style="left:1329.90px;top:707.80px">14:10</div><div class="xl" style="left:1421.40px;top:707.80px">14:20</div><div class="xl" style="left:1512.90px;top:707.80px">14:30</div><div class="xl" style="left:1604.40px;top:707.80px">14:40</div><div class="xl" style="left:1695.90px;top:707.80px">14:50</div><div class="xl" style="left:1787.40px;top:707.80px">15:00</div><div class="lh" style="left:1288px;top:725.10px">Name</div><div class="lh r" style="left:1571.30px;top:725.10px">Mean</div><div class="lh r" style="left:1642.00px;top:725.10px">Last *</div><div class="lh r" style="left:1703.60px;top:725.10px">Max</div><div class="lh r" style="left:1762.20px;top:725.10px">Min</div><div class="lv" style="left:1288px;top:747.90px">avg</div><div class="lv r" style="left:1571.30px;top:747.90px">24.3%</div><div class="lv r" style="left:1642.00px;top:747.90px">24.3%</div><div class="lv r" style="left:1703.60px;top:747.90px">24.7%</div><div class="lv r" style="left:1762.20px;top:747.90px">24.0%</div><div class="lv" style="left:1288px;top:772.10px">ccvm</div><div class="lv r" style="left:1571.30px;top:772.10px">24.3%</div><div class="lv r" style="left:1642.00px;top:772.10px">24.3%</div><div class="lv r" style="left:1703.60px;top:772.10px">24.7%</div><div class="lv r" style="left:1762.20px;top:772.10px">24.0%</div></div></body></html>
